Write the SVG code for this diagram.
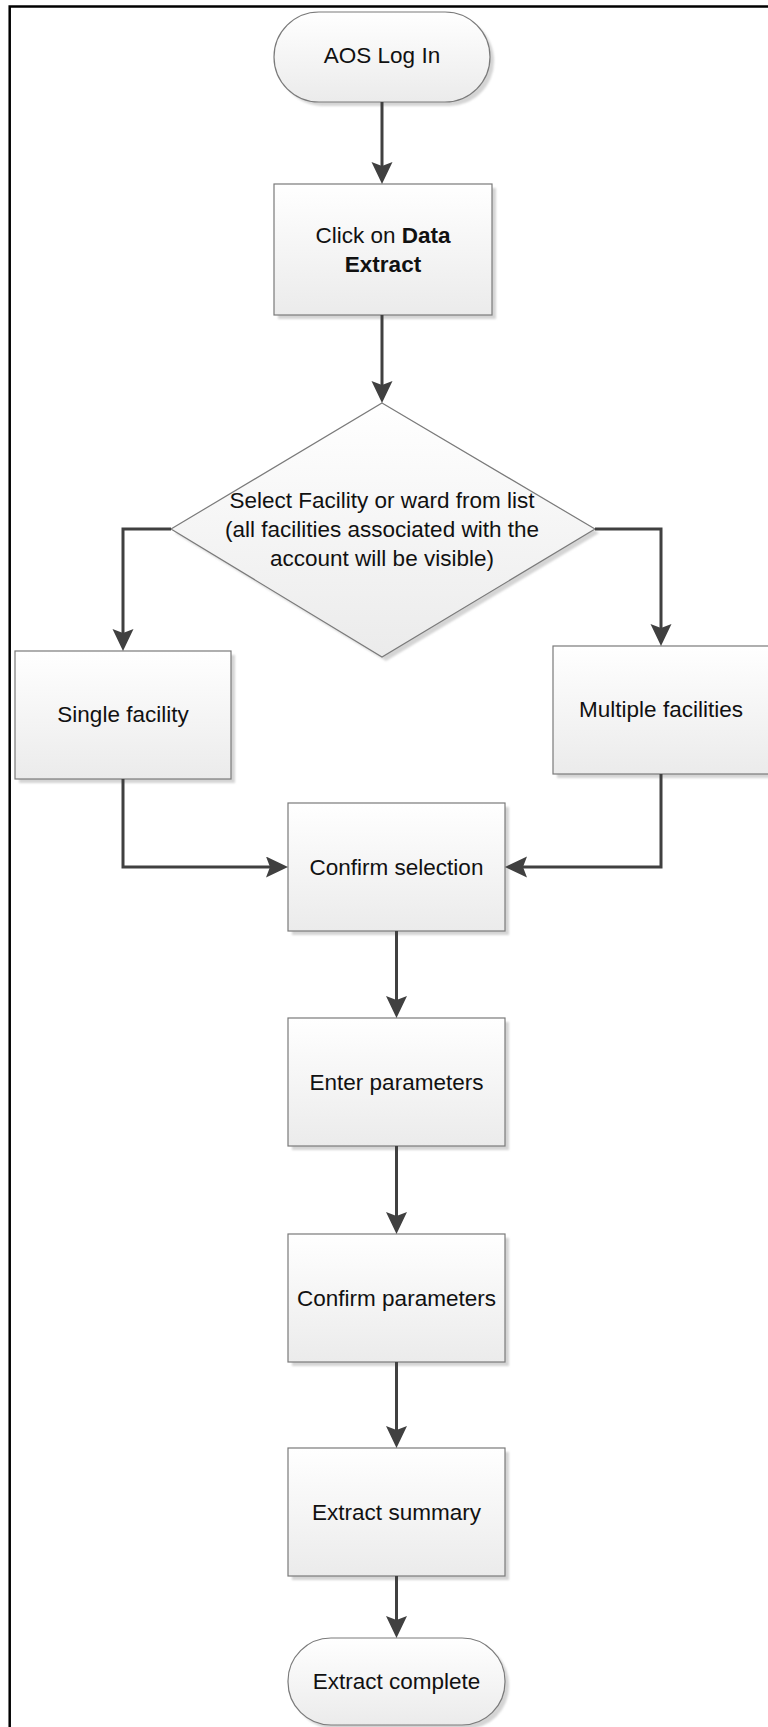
<svg xmlns="http://www.w3.org/2000/svg" width="768" height="1727" viewBox="0 0 768 1727">
<defs>
<linearGradient id="g" x1="0" y1="0" x2="0" y2="1">
<stop offset="0" stop-color="#ffffff"/>
<stop offset="1" stop-color="#ebebeb"/>
</linearGradient>
<filter id="sh" x="-10%" y="-10%" width="130%" height="130%">
<feGaussianBlur stdDeviation="1.2"/>
</filter>
<marker id="ah" markerUnits="userSpaceOnUse" markerWidth="24" markerHeight="22" refX="12" refY="10.5" orient="auto">
<path d="M0,0 L22,10.5 L0,21 L4,10.5 Z" fill="#404040"/>
</marker>
<style>
.box{fill:url(#g);stroke:#7a7a7a;stroke-width:1.2}
.shd{fill:#d4d4d4;filter:url(#sh)}
.t{font-family:"Liberation Sans",Arial,sans-serif;font-size:22.5px;fill:#111;text-anchor:middle}
.b{font-weight:bold}
.c{fill:none;stroke:#404040;stroke-width:3;marker-end:url(#ah)}
</style>
</defs>
<rect width="768" height="1727" fill="#fff"/>
<path d="M9.7,1727 V6.5 H768" fill="none" stroke="#000" stroke-width="2.5"/>

<g id="n1">
<rect class="shd" x="278" y="16" width="216" height="90" rx="45"/>
<rect class="box" x="274" y="12" width="216" height="90" rx="45"/>
<text class="t" x="382" y="63">AOS Log In</text>
</g>
<g id="n2">
<rect class="shd" x="278" y="188" width="218" height="131"/>
<rect class="box" x="274" y="184" width="218" height="131"/>
<text class="t" x="383" y="243">Click on <tspan class="b">Data</tspan></text>
<text class="t b" x="383" y="272">Extract</text>
</g>
<g id="n3">
<path class="shd" d="M386,407 L599,533 L386,661 L175,533 Z"/>
<path class="box" d="M382,403 L595,529 L382,657 L171,529 Z"/>
<text class="t" x="382" y="508">Select Facility or ward from list</text>
<text class="t" x="382" y="537">(all facilities associated with the</text>
<text class="t" x="382" y="566">account will be visible)</text>
</g>
<g id="n4">
<rect class="shd" x="19" y="655" width="216" height="128"/>
<rect class="box" x="15" y="651" width="216" height="128"/>
<text class="t" x="123" y="722">Single facility</text>
</g>
<g id="n5">
<rect class="shd" x="557" y="650" width="216" height="128"/>
<rect class="box" x="553" y="646" width="216" height="128"/>
<text class="t" x="661" y="717">Multiple facilities</text>
</g>
<g id="n6">
<rect class="shd" x="292" y="807" width="217" height="128"/>
<rect class="box" x="288" y="803" width="217" height="128"/>
<text class="t" x="396.5" y="875">Confirm selection</text>
</g>
<g id="n7">
<rect class="shd" x="292" y="1022" width="217" height="128"/>
<rect class="box" x="288" y="1018" width="217" height="128"/>
<text class="t" x="396.5" y="1090">Enter parameters</text>
</g>
<g id="n8">
<rect class="shd" x="292" y="1238" width="217" height="128"/>
<rect class="box" x="288" y="1234" width="217" height="128"/>
<text class="t" x="396.5" y="1306">Confirm parameters</text>
</g>
<g id="n9">
<rect class="shd" x="292" y="1452" width="217" height="128"/>
<rect class="box" x="288" y="1448" width="217" height="128"/>
<text class="t" x="396.5" y="1520">Extract summary</text>
</g>
<g id="n10">
<rect class="shd" x="292" y="1642" width="217" height="87" rx="43"/>
<rect class="box" x="288" y="1638" width="217" height="87" rx="43"/>
<text class="t" x="396.5" y="1689">Extract complete</text>
</g>

<g id="connectors">
<path class="c" d="M382,102 V174"/>
<path class="c" d="M382,315 V393"/>
<path class="c" d="M171,529 H123 V641"/>
<path class="c" d="M595,529 H661 V636"/>
<path class="c" d="M123,779 V867 H278"/>
<path class="c" d="M661,774 V867 H515"/>
<path class="c" d="M396.5,931 V1008"/>
<path class="c" d="M396.5,1146 V1224"/>
<path class="c" d="M396.5,1362 V1438"/>
<path class="c" d="M396.5,1576 V1628"/>
</g>
</svg>
